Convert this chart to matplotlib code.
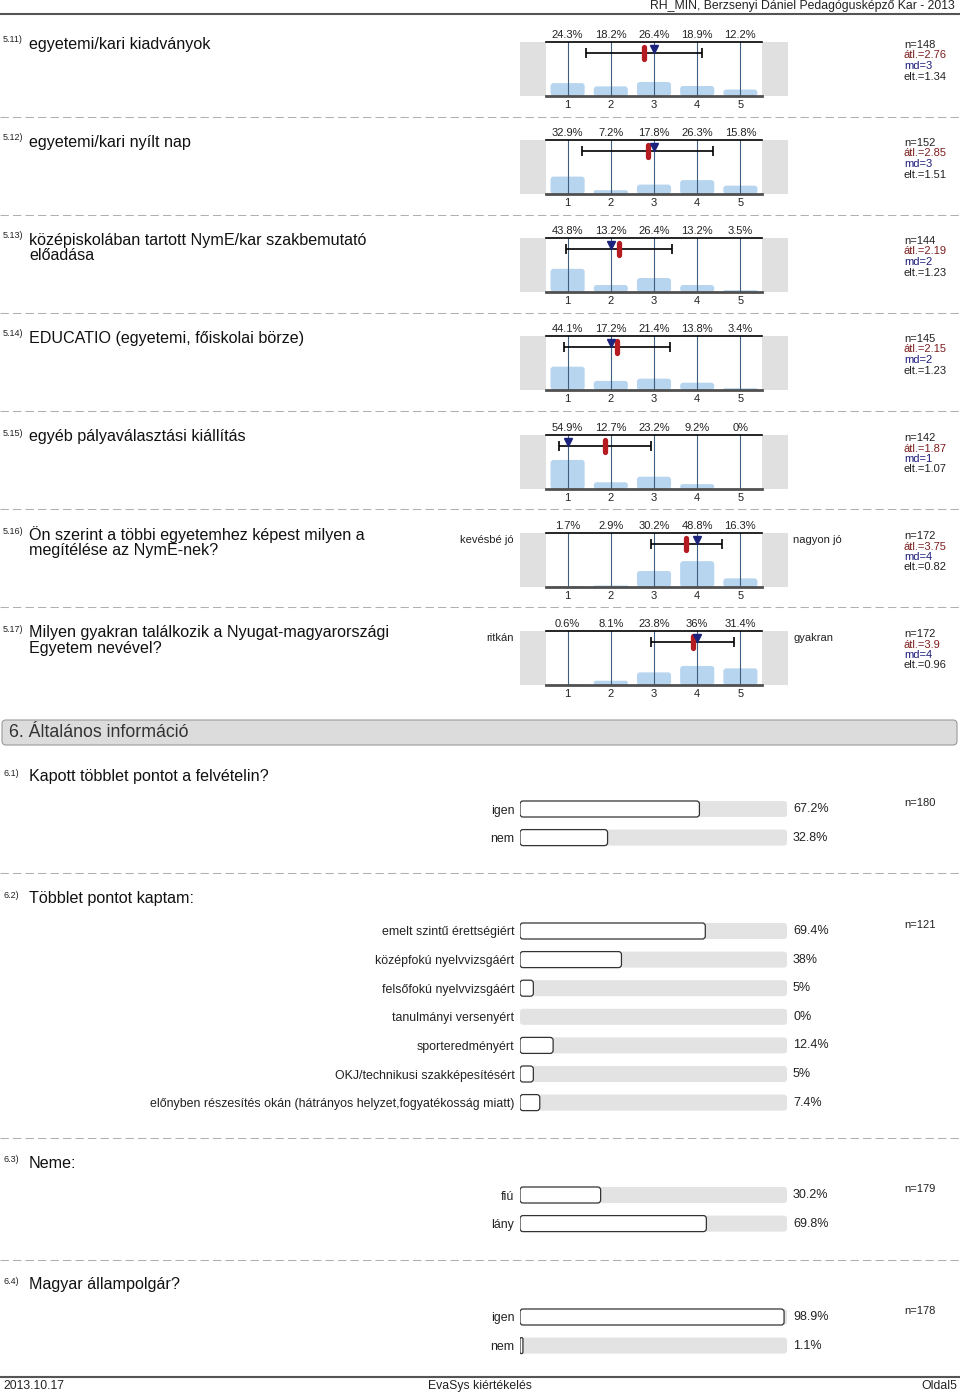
import matplotlib
matplotlib.use('Agg')
import matplotlib.pyplot as plt
import matplotlib.transforms as mtransforms
from matplotlib.patches import Rectangle, FancyBboxPatch

plt.rcParams['font.family'] = ['Liberation Sans', 'DejaVu Sans']

W, H = 960, 1395

# --- scale questions (5.11 - 5.17) ---
scale_qnum = ['5.11)', '5.12)', '5.13)', '5.14)', '5.15)', '5.16)', '5.17)']
scale_text = [
    ['egyetemi/kari kiadványok'],
    ['egyetemi/kari nyílt nap'],
    ['középiskolában tartott NymE/kar szakbemutató', 'előadása'],
    ['EDUCATIO (egyetemi, főiskolai börze)'],
    ['egyéb pályaválasztási kiállítás'],
    ['Ön szerint a többi egyetemhez képest milyen a', 'megítélése az NymE-nek?'],
    ['Milyen gyakran találkozik a Nyugat-magyarországi', 'Egyetem nevével?'],
]
scale_left = ['', '', '', '', '', 'kevésbé jó', 'ritkán']
scale_right = ['', '', '', '', '', 'nagyon jó', 'gyakran']
scale_cats = [1, 2, 3, 4, 5]
scale_pct = [
    [24.3, 18.2, 26.4, 18.9, 12.2],
    [32.9, 7.2, 17.8, 26.3, 15.8],
    [43.8, 13.2, 26.4, 13.2, 3.5],
    [44.1, 17.2, 21.4, 13.8, 3.4],
    [54.9, 12.7, 23.2, 9.2, 0],
    [1.7, 2.9, 30.2, 48.8, 16.3],
    [0.6, 8.1, 23.8, 36, 31.4],
]
scale_n = [148, 152, 144, 145, 142, 172, 172]
scale_mean = [2.76, 2.85, 2.19, 2.15, 1.87, 3.75, 3.9]
scale_md = [3, 3, 2, 2, 1, 4, 4]
scale_sd = [1.34, 1.51, 1.23, 1.23, 1.07, 0.82, 0.96]

# --- choice questions (6.1 - 6.4) ---
choice_qnum = ['6.1)', '6.2)', '6.3)', '6.4)']
choice_text = ['Kapott többlet pontot a felvételin?', 'Többlet pontot kaptam:',
               'Neme:', 'Magyar állampolgár?']
choice_labels = [
    ['igen', 'nem'],
    ['emelt szintű érettségiért', 'középfokú nyelvvizsgáért', 'felsőfokú nyelvvizsgáért',
     'tanulmányi versenyért', 'sporteredményért', 'OKJ/technikusi szakképesítésért',
     'előnyben részesítés okán (hátrányos helyzet,fogyatékosság miatt)'],
    ['fiú', 'lány'],
    ['igen', 'nem'],
]
choice_pct = [
    [67.2, 32.8],
    [69.4, 38, 5, 0, 12.4, 5, 7.4],
    [30.2, 69.8],
    [98.9, 1.1],
]
choice_n = [180, 121, 179, 178]

# layout (pixels from top)
scale_top = [35, 133, 231, 329, 428, 526, 624]
choice_title_y = [777, 899, 1163, 1285]
choice_row0 = [809, 931, 1195, 1317]
row_step = 28.6
separators = [117, 215, 313, 411, 509, 607, 873, 1138, 1260]

fig = plt.figure(figsize=(W / 100, H / 100), dpi=100)
ax0 = fig.add_axes([0, 0, 1, 1])
ax0.set_xlim(0, W)
ax0.set_ylim(H, 0)
ax0.axis('off')


def px_axes(x, y, w, h):
    return fig.add_axes([x / W, 1 - (y + h) / H, w / W, h / H])


def round_bars(ax, bars, r_px, aspect, ppx):
    # swap plain rectangles for rounded ones
    for rect in bars:
        x, y = rect.get_xy()
        w, h = rect.get_width(), rect.get_height()
        if w <= 0 or h <= 0:
            rect.remove()
            continue
        r = min(r_px * ppx, w / 2, h / (2 * aspect))
        p = FancyBboxPatch((x, y), w, h, boxstyle=f'round,pad=0,rounding_size={r}',
                           mutation_aspect=aspect, fc=rect.get_facecolor(),
                           ec=rect.get_edgecolor(), lw=rect.get_linewidth(),
                           zorder=rect.get_zorder())
        rect.remove()
        ax.add_patch(p)


# header / footer
ax0.text(955, 6, 'RH_MIN, Berzsenyi Dániel Pedagógusképző Kar - 2013', ha='right', va='center',
         fontsize=8.8, color='#222')
ax0.plot([0, W], [14, 14], color='#555', lw=1.5)
ax0.plot([0, W], [1377, 1377], color='#555', lw=1.5)
ax0.text(3, 1386, '2013.10.17', ha='left', va='center', fontsize=8.8, color='#222')
ax0.text(480, 1386, 'EvaSys kiértékelés', ha='center', va='center', fontsize=8.8, color='#222')
ax0.text(957, 1386, 'Oldal5', ha='right', va='center', fontsize=8.8, color='#222')

for y in separators:
    ax0.plot([0, W], [y, y], color='#b0b0b0', lw=0.75, ls=(0, (8, 4)))

# scale blocks
for i, t in enumerate(scale_top):
    ax0.text(3, t + 5, scale_qnum[i], fontsize=6.5, va='center', color='#222')
    for k, line in enumerate(scale_text[i]):
        ax0.text(29, t + 9 + 16 * k, line, fontsize=11.6, va='center', color='#111')
    ax0.add_patch(Rectangle((520, t + 7), 26, 54, color='#e0e0e0', lw=0))
    ax0.add_patch(Rectangle((762, t + 7), 26, 54, color='#e0e0e0', lw=0))
    if scale_left[i]:
        ax0.text(514, t + 14, scale_left[i], ha='right', va='center', fontsize=8, color='#222')
        ax0.text(793, t + 14, scale_right[i], ha='left', va='center', fontsize=8, color='#222')
    stats = [(f'n={scale_n[i]}', '#222'), (f'átl.={scale_mean[i]:g}', '#7c1d1d'),
             (f'md={scale_md[i]}', '#1d1d7c'), (f'elt.={scale_sd[i]:g}', '#222')]
    for k, (s, c) in enumerate(stats):
        ax0.text(904, t + 10 + 10.5 * k, s, fontsize=8, va='center', color=c)

    ax = px_axes(546, t + 7, 216, 54)
    ax.set_xlim(0.5, 5.5)
    ax.set_ylim(0, 102)
    bars = ax.bar(scale_cats, scale_pct[i], width=0.79, color='#b7d5ef', lw=0, zorder=1)
    round_bars(ax, bars, 3, (102 / 54) / (5 / 216), 5 / 216)
    for c in scale_cats:
        ax.axvline(c, color='#3e5f7f', lw=0.8, zorder=2)
    ax.errorbar(scale_mean[i], 81, xerr=scale_sd[i], fmt='none', ecolor='black',
                elinewidth=1.2, capsize=3.5, capthick=1.2, zorder=3)
    ax.plot([scale_mean[i], scale_mean[i]], [69, 93], color='#b41c22', lw=3.8,
            solid_capstyle='round', zorder=4)
    ax.plot([scale_md[i]], [88], marker='v', markersize=6, color='#1b237d', zorder=5)
    for s in ['left', 'right']:
        ax.spines[s].set_visible(False)
    ax.spines['top'].set_color('black')
    ax.spines['top'].set_linewidth(1.2)
    ax.spines['bottom'].set_color('#505050')
    ax.spines['bottom'].set_linewidth(2)
    ax.spines['bottom'].set_zorder(6)
    ax.set_yticks([])
    ax.set_xticks(scale_cats)
    ax.tick_params(axis='x', length=0, labelsize=8, pad=3, labelcolor='#222')
    tr = mtransforms.blended_transform_factory(ax.transData, ax.transAxes)
    for c, p in zip(scale_cats, scale_pct[i]):
        ax.text(c, 1 + 7 / 54, f'{p:g}%', transform=tr, ha='center', va='center',
                fontsize=8, color='#222')

# section header
ax0.add_patch(FancyBboxPatch((2, 720), 955, 25, boxstyle='round,pad=0,rounding_size=4',
                             fc='#dcdcdc', ec='#9a9a9a', lw=0.8))
ax0.text(9, 732.5, '6. Általános információ', fontsize=12.8, va='center', color='#333')

# choice blocks
for i in range(len(choice_text)):
    ty = choice_title_y[i]
    ax0.text(3, ty - 4, choice_qnum[i], fontsize=6.5, va='center', color='#222')
    ax0.text(29, ty, choice_text[i], fontsize=11.6, va='center', color='#111')
    c0 = choice_row0[i]
    ax0.text(904, c0 - 6, f'n={choice_n[i]}', fontsize=8, va='center', color='#222')

    nrow = len(choice_labels[i])
    rows = list(range(nrow))
    ax = px_axes(520, c0 - row_step / 2, 267, row_step * nrow)
    ax.set_xlim(0, 100)
    ax.set_ylim(nrow - 0.5, -0.5)
    for s in ax.spines.values():
        s.set_visible(False)
    ppx = 100 / 267
    aspect = (1 / row_step) / ppx
    tracks = ax.barh(rows, [100] * nrow, height=0.56, color='#e3e3e3', lw=0, zorder=1)
    bars = ax.barh(rows, choice_pct[i], height=0.56, color='white', edgecolor='#333',
                   lw=0.9, zorder=2)
    round_bars(ax, tracks, 3, aspect, ppx)
    round_bars(ax, bars, 3, aspect, ppx)
    ax.set_xticks([])
    ax.set_yticks(rows, choice_labels[i])
    ax.tick_params(axis='y', length=0, labelsize=8.9, pad=4, labelcolor='#222')
    for r, p in zip(rows, choice_pct[i]):
        ax.annotate(f'{p:g}%', (100, r), xytext=(6, 0), textcoords='offset pixels',
                    ha='left', va='center', fontsize=9, color='#222', annotation_clip=False)

fig.savefig('out.png', dpi=100)
